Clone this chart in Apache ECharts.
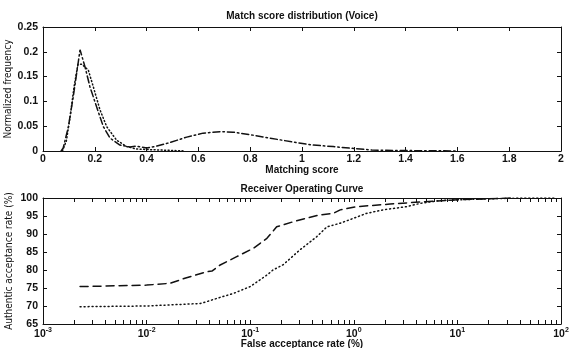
<!DOCTYPE html>
<html>
<head>
<meta charset="utf-8">
<script src="https://cdn.jsdelivr.net/npm/echarts@6/dist/echarts.min.js"></script>
<style>
  html, body {margin: 0; padding: 0; background: #fff;}
  #chart {width: 574px; height: 348px;}
</style>
</head>
<body>
<div id="chart"></div>
<script>
// match score distribution, two curves
const dashDotScore = [0.07, 0.078, 0.098, 0.117, 0.130, 0.143, 0.162, 0.181, 0.207, 0.233, 0.259, 0.297, 0.336, 0.36, 0.40, 0.44, 0.49, 0.555, 0.618, 0.683, 0.734, 0.81, 0.876, 0.966, 1.04, 1.12, 1.2, 1.27, 1.37, 1.5, 1.6]
const dashDotFreq = [0, 0.006, 0.049, 0.11, 0.157, 0.204, 0.170, 0.130, 0.089, 0.049, 0.026, 0.012, 0.008, 0.010, 0.006, 0.010, 0.017, 0.028, 0.036, 0.039, 0.038, 0.032, 0.026, 0.018, 0.012, 0.009, 0.005, 0.002, 0.001, 0.0005, 0]
const dottedScore = [0.075, 0.09, 0.105, 0.12, 0.135, 0.15, 0.175, 0.194, 0.220, 0.246, 0.284, 0.323, 0.36, 0.40, 0.45, 0.5, 0.55]
const dottedFreq = [0, 0.02, 0.07, 0.13, 0.175, 0.175, 0.163, 0.13, 0.083, 0.049, 0.022, 0.009, 0.004, 0.003, 0.002, 0.001, 0]

// ROC: false acceptance rate (%) vs authentic acceptance rate (%)
const dashedFar = [0.00228, 0.005, 0.01, 0.0168, 0.0234, 0.038, 0.0427, 0.0513, 0.0741, 0.107, 0.145, 0.18, 0.26, 0.35, 0.47, 0.63, 0.74, 1.07, 2.24, 3.47, 10, 34.7]
const dashedGar = [75.4, 75.6, 75.8, 76.3, 77.7, 79.5, 79.7, 81.4, 83.7, 86.0, 88.8, 92.0, 93.4, 94.4, 95.3, 95.7, 96.7, 97.6, 98.3, 98.7, 99.5, 100]
const dottedFar = [0.00228, 0.01, 0.0331, 0.038, 0.0513, 0.0692, 0.1, 0.145, 0.166, 0.209, 0.302, 0.437, 0.55, 0.741, 1.0, 1.32, 1.91, 3.24, 4.37, 6.76, 15.8, 39.8, 89]
const dottedGar = [69.8, 70.0, 70.7, 71.2, 72.4, 73.5, 75.4, 78.6, 80.0, 81.5, 85.6, 89.2, 92.0, 93.0, 94.4, 95.7, 96.7, 97.6, 98.5, 99.3, 99.7, 100, 100]

const farDecades = [0.001, 0.01, 0.1, 1, 10, 100]

// log axis ticks 1..9 per decade
const farTicks = []
farDecades.forEach((d, i) => {
  const top = i === farDecades.length - 1 ? 1 : 9
  for (let k = 1; k <= top; k++) farTicks.push(+(k * d).toPrecision(3))
})

const font = 'Liberation Sans, Arial, sans-serif'
const narrow = 'Liberation Sans Narrow, DejaVu Sans Condensed, sans-serif'
const black = '#111'
const tickLabel = {color: black, fontFamily: font, fontSize: 10.5, fontWeight: 'bold'}

const frameAxis = (extra) => Object.assign({
  axisLine: {show: true, onZero: false, lineStyle: {color: black, width: 1}},
  axisTick: {show: true, inside: true, length: 4, lineStyle: {color: black}},
  splitLine: {show: false},
  axisLabel: {show: false}
}, extra)

const grids = [
  {left: 43, width: 518, top: 27, height: 124},
  {left: 43, width: 518, top: 198, height: 126}
]

const linX = (grid, pos, label) => frameAxis({
  type: 'value', gridIndex: grid, position: pos, min: 0, max: 2, interval: 0.2,
  axisLabel: label ? Object.assign({show: true, margin: 3}, tickLabel) : {show: false}
})
const logX = (grid, pos, label) => frameAxis({
  type: 'log', logBase: 10, gridIndex: grid, position: pos, min: 0.001, max: 100,
  axisTick: {show: true, inside: true, length: 4, customValues: farTicks, lineStyle: {color: black}},
  axisLabel: label ? Object.assign({
    show: true, margin: 3,
    customValues: farDecades,
    formatter: v => '{b|10}{s|' + Math.round(Math.log10(v)) + '}',
    rich: {
      b: Object.assign({}, tickLabel),
      s: Object.assign({}, tickLabel, {fontSize: 7, verticalAlign: 'top', padding: [0, 0, 7, 0]})
    }
  }, tickLabel) : {show: false}
})
const freqY = (grid, pos, label) => frameAxis({
  type: 'value', gridIndex: grid, position: pos, min: 0, max: 0.25, interval: 0.05,
  axisLabel: label ? Object.assign({show: true, margin: 5}, tickLabel) : {show: false}
})
const garY = (grid, pos, label) => frameAxis({
  type: 'value', gridIndex: grid, position: pos, min: 65, max: 100, interval: 5,
  axisLabel: label ? Object.assign({show: true, margin: 5}, tickLabel) : {show: false}
})

const pairs = (xs, ys) => xs.map((x, i) => [x, ys[i]])

const lineSeries = (xi, yi, data, dash) => ({
  type: 'line', xAxisIndex: xi, yAxisIndex: yi, data,
  symbol: 'none', smooth: false, silent: true,
  lineStyle: {color: black, width: 1.5, type: dash, cap: 'round'}
})

const titleText = {color: black, fontFamily: font, fontSize: 10, fontWeight: 'bold'}
const heading = (text, top) => ({text, left: 302, top, padding: 0, textAlign: 'center', textStyle: titleText})

const chart = echarts.init(document.getElementById('chart'), null, {renderer: 'canvas'})
chart.setOption({
  backgroundColor: '#fff',
  animation: false,
  title: [
    heading('Match score distribution (Voice)', 11),
    heading('Matching score', 165),
    heading('Receiver Operating Curve', 184),
    heading('False acceptance rate (%)', 339)
  ],
  graphic: [
    {type: 'text', x: 8, y: 89, rotation: Math.PI / 2,
      style: {text: 'Normalized frequency', fill: black, font: '10px ' + narrow, align: 'center', verticalAlign: 'middle'}},
    {type: 'text', x: 9, y: 261, rotation: Math.PI / 2,
      style: {text: 'Authentic acceptance rate (%)', fill: black, font: '10px ' + narrow, align: 'center', verticalAlign: 'middle'}}
  ],
  grid: grids,
  xAxis: [linX(0, 'bottom', true), linX(0, 'top', false), logX(1, 'bottom', true), logX(1, 'top', false)],
  yAxis: [freqY(0, 'left', true), freqY(0, 'right', false), garY(1, 'left', true), garY(1, 'right', false)],
  series: [
    lineSeries(0, 0, pairs(dashDotScore, dashDotFreq), [7, 3, 1.5, 3]),
    lineSeries(0, 0, pairs(dottedScore, dottedFreq), [1, 2.5]),
    lineSeries(2, 2, pairs(dashedFar, dashedGar), [8, 5]),
    lineSeries(2, 2, pairs(dottedFar, dottedGar), [1, 3])
  ]
})
</script>
</body>
</html>
